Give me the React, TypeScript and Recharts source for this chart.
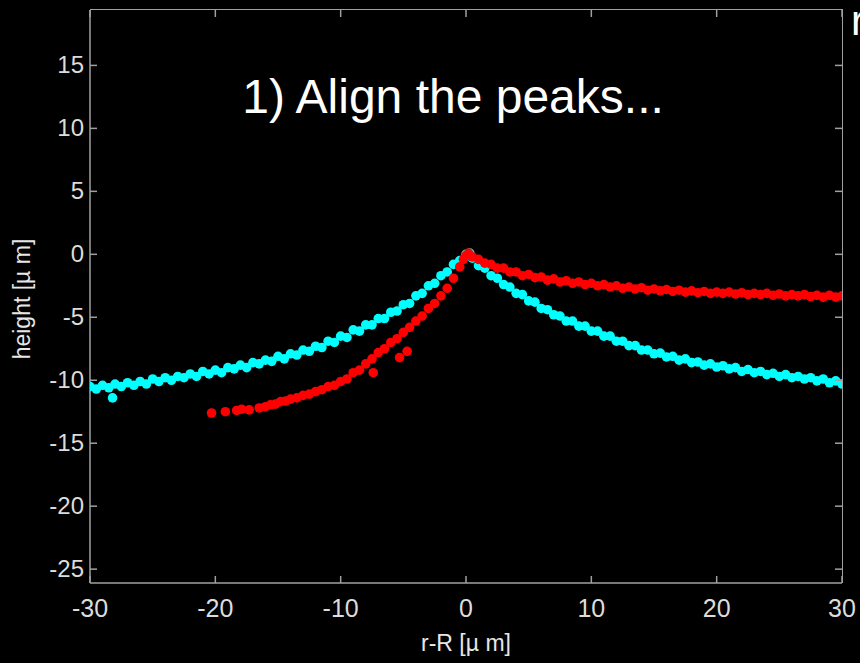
import {
  Scatter,
  ScatterChart,
  XAxis,
  YAxis,
} from "recharts";

// Profiles: [r-R in µm, height in µm]
const cyanProfile: [number, number][] = [
  [-30, -10.5], [-29.5, -10.7], [-29, -10.4], [-28.5, -10.6], [-28.2, -11.4], [-28, -10.3],
  [-27.5, -10.5], [-27, -10.2], [-26.5, -10.4], [-26, -10.1], [-25.5, -10.3], [-25, -9.9],
  [-24.5, -10.1], [-24, -9.8], [-23.5, -10.0], [-23, -9.7], [-22.5, -9.8], [-22, -9.5],
  [-21.5, -9.7], [-21, -9.3], [-20.5, -9.5], [-20, -9.2], [-19.5, -9.4], [-19, -9.0],
  [-18.5, -9.1], [-18, -8.8], [-17.5, -9.0], [-17, -8.6], [-16.5, -8.7], [-16, -8.4],
  [-15.5, -8.5], [-15, -8.1], [-14.5, -8.3], [-14, -7.9], [-13.5, -8.0], [-13, -7.6],
  [-12.5, -7.7], [-12, -7.3], [-11.5, -7.4], [-11, -6.9], [-10.5, -7.0], [-10, -6.5],
  [-9.5, -6.6], [-9, -6.0], [-8.5, -6.1], [-8, -5.6], [-7.5, -5.6], [-7, -5.1],
  [-6.5, -5.1], [-6, -4.6], [-5.5, -4.5], [-5, -4.0], [-4.5, -3.9], [-4, -3.3],
  [-3.5, -3.1], [-3, -2.5], [-2.5, -2.3], [-2, -1.7], [-1.5, -1.4], [-1, -0.8],
  [-0.5, -0.5], [0, 0.0], [0.3, 0.1],
  [0.5, -0.3], [1, -0.9], [1.5, -1.1], [2, -1.7], [2.5, -1.9], [3, -2.4],
  [3.5, -2.6], [4, -3.1], [4.5, -3.2], [5, -3.7], [5.5, -3.8], [6, -4.3],
  [6.5, -4.4], [7, -4.8], [7.5, -4.9], [8, -5.3], [8.5, -5.3], [9, -5.7],
  [9.5, -5.7], [10, -6.1], [10.5, -6.1], [11, -6.5], [11.5, -6.5], [12, -6.9],
  [12.5, -6.9], [13, -7.25], [13.5, -7.25], [14, -7.6], [14.5, -7.6], [15, -7.9],
  [15.5, -7.85], [16, -8.15], [16.5, -8.1], [17, -8.4], [17.5, -8.3], [18, -8.6],
  [18.5, -8.55], [19, -8.8], [19.5, -8.7], [20, -8.95], [20.5, -8.85], [21, -9.1],
  [21.5, -9.0], [22, -9.3], [22.5, -9.15], [23, -9.4], [23.5, -9.3], [24, -9.55],
  [24.5, -9.45], [25, -9.7], [25.5, -9.55], [26, -9.8], [26.5, -9.7], [27, -9.9],
  [27.5, -9.8], [28, -10.05], [28.5, -9.9], [29, -10.2], [29.5, -10.05], [30, -10.3],
];

const redProfile: [number, number][] = [
  [-20.3, -12.6], [-19.2, -12.5], [-18.3, -12.4], [-17.9, -12.3], [-17.3, -12.35],
  [-16.5, -12.2], [-16, -12.1], [-15.6, -11.95], [-15.2, -11.9], [-14.8, -11.7],
  [-14.4, -11.65], [-14, -11.5], [-13.5, -11.4], [-13, -11.2], [-12.5, -11.1],
  [-12, -10.9], [-11.5, -10.75], [-11, -10.5], [-10.5, -10.4], [-10, -10.1],
  [-9.5, -9.9], [-9, -9.4], [-8.5, -9.2], [-8, -8.7], [-7.5, -8.3], [-7.4, -9.4],
  [-7, -7.8], [-6.5, -7.5], [-6, -7.0], [-5.5, -6.7], [-5.3, -8.2], [-5, -6.2],
  [-4.7, -7.7], [-4.5, -5.8], [-4, -5.3], [-3.5, -4.9], [-3, -4.3], [-2.5, -3.9],
  [-2, -3.3], [-1.5, -2.7], [-1, -1.9], [-0.5, -1.0], [-0.2, -0.4], [0, -0.1],
  [0.2, 0.1], [0.5, -0.2], [1, -0.4], [1.5, -0.7], [2, -0.8], [2.5, -1.1],
  [3, -1.1], [3.5, -1.4], [4, -1.4], [4.5, -1.7], [5, -1.6], [5.5, -1.85],
  [6, -1.8], [6.5, -2.05], [7, -1.95], [7.5, -2.2], [8, -2.1], [8.5, -2.3],
  [9, -2.2], [9.5, -2.4], [10, -2.3], [10.5, -2.5], [11, -2.4], [11.5, -2.6],
  [12, -2.5], [12.5, -2.7], [13, -2.6], [13.5, -2.75], [14, -2.65], [14.5, -2.85],
  [15, -2.75], [15.5, -2.9], [16, -2.8], [16.5, -2.95], [17, -2.85], [17.5, -3.0],
  [18, -2.9], [18.5, -3.05], [19, -2.95], [19.5, -3.1], [20, -3.0], [20.5, -3.1],
  [21, -3.0], [21.5, -3.15], [22, -3.05], [22.5, -3.2], [23, -3.1], [23.5, -3.2],
  [24, -3.1], [24.5, -3.25], [25, -3.15], [25.5, -3.3], [26, -3.2], [26.5, -3.3],
  [27, -3.2], [27.5, -3.35], [28, -3.25], [28.5, -3.4], [29, -3.25], [29.5, -3.4],
  [30, -3.3],
];

const xTicks = [-30, -20, -10, 0, 10, 20, 30];
const yTicks = [-25, -20, -15, -10, -5, 0, 5, 10, 15];

const CYAN = "#00ffff";
const RED = "#ff0000";
const AXIS = "#a0a0a0";
const TICK_TEXT = "#dcdcdc";
const FONT = "'Liberation Sans', Arial, sans-serif";

// plot box (the frame is boxed, MATLAB style, with ticks pointing inward on all sides)
const PLOT_LEFT = 90;
const PLOT_TOP = 10;
const PLOT_RIGHT = 842;
const PLOT_BOTTOM = 583;

const cyanData = cyanProfile.map(([x, y]) => ({ x, y }));
const redData = redProfile.map(([x, y]) => ({ x, y }));

function BottomTick({ x, payload }: any) {
  return (
    <g>
      <line x1={x} x2={x} y1={PLOT_BOTTOM} y2={PLOT_BOTTOM - 7} stroke={AXIS} strokeWidth={1.5} />
      <line x1={x} x2={x} y1={PLOT_TOP} y2={PLOT_TOP + 7} stroke={AXIS} strokeWidth={1.5} />
      <text x={x} y={PLOT_BOTTOM + 34} textAnchor="middle" fill={TICK_TEXT} fontSize={25} fontFamily={FONT}>
        {payload.value}
      </text>
    </g>
  );
}

function LeftTick({ y, payload }: any) {
  return (
    <g>
      <line x1={PLOT_LEFT} x2={PLOT_LEFT + 7} y1={y} y2={y} stroke={AXIS} strokeWidth={1.5} />
      <line x1={PLOT_RIGHT} x2={PLOT_RIGHT - 7} y1={y} y2={y} stroke={AXIS} strokeWidth={1.5} />
      <text x={PLOT_LEFT - 6} y={y + 8} textAnchor="end" fill={TICK_TEXT} fontSize={24} fontFamily={FONT}>
        {payload.value}
      </text>
    </g>
  );
}

const dot = (fill: string) => (p: any) => <circle cx={p.cx} cy={p.cy} r={4.8} fill={fill} />;

export default function App() {
  return (
    <div style={{ position: "absolute", left: 0, top: 0, width: 860, height: 663, background: "#000", overflow: "hidden" }}>
      <div
        style={{
          position: "absolute",
          left: PLOT_LEFT,
          top: PLOT_TOP - 1,
          width: PLOT_RIGHT - PLOT_LEFT,
          height: PLOT_BOTTOM - PLOT_TOP,
          borderTop: `1.5px solid ${AXIS}`,
          borderRight: `1.5px solid ${AXIS}`,
        }}
      />
      <ScatterChart
        width={860}
        height={663}
        margin={{ top: PLOT_TOP, right: 860 - PLOT_RIGHT, bottom: 0, left: 0 }}
        style={{ position: "absolute", left: 0, top: 0 }}
      >
        <XAxis
          dataKey="x"
          type="number"
          domain={[-30, 30]}
          ticks={xTicks}
          allowDataOverflow
          height={663 - PLOT_BOTTOM}
          tickSize={0}
          tickMargin={0}
          tickLine={false}
          tick={<BottomTick />}
          axisLine={{ stroke: AXIS, strokeWidth: 1.5 }}
        />
        <YAxis
          dataKey="y"
          type="number"
          domain={[-26.1, 19.4]}
          ticks={yTicks}
          allowDataOverflow
          width={PLOT_LEFT}
          tickSize={0}
          tickMargin={0}
          tickLine={false}
          tick={<LeftTick />}
          axisLine={{ stroke: AXIS, strokeWidth: 1.5 }}
        />
        <Scatter data={cyanData} fill={CYAN} shape={dot(CYAN)} isAnimationActive={false} />
        <Scatter data={redData} fill={RED} shape={dot(RED)} isAnimationActive={false} />
      </ScatterChart>
      <div style={{ position: "absolute", left: 0, width: 906, top: 69, textAlign: "center", color: "#fff", fontFamily: FONT, fontSize: 48, lineHeight: "56px", whiteSpace: "nowrap" }}>
        1) Align the peaks...
      </div>
      <div style={{ position: "absolute", left: 851, top: -4, color: "#fff", fontFamily: FONT, fontSize: 42, lineHeight: "50px" }}>
        r
      </div>
      <div style={{ position: "absolute", left: 466 - 150, width: 300, top: 628, textAlign: "center", color: "#e6e6e6", fontFamily: FONT, fontSize: 23, lineHeight: "30px" }}>
        r-R [µ m]
      </div>
      <div style={{ position: "absolute", left: 22 - 150, top: 299 - 15, width: 300, height: 30, textAlign: "center", color: "#e6e6e6", fontFamily: FONT, fontSize: 23, lineHeight: "30px", transform: "rotate(-90deg)" }}>
        height [µ m]
      </div>
    </div>
  );
}
